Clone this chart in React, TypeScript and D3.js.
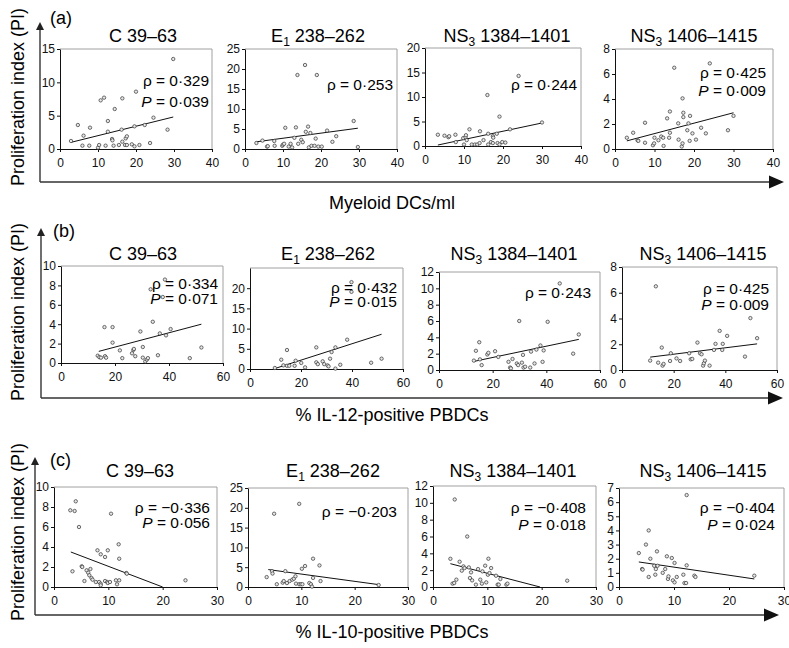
import React, { useEffect, useRef } from "react";
import * as d3 from "d3";

const FONT = "'Liberation Sans', Arial, Helvetica, sans-serif";

// ---- panel titles (peptides) ----
const titlePre = ["C 39–63", "E", "NS", "NS"];
const titleSub = ["", "1", "3", "3"];
const titlePost = ["", " 238–262", " 1384–1401", " 1406–1415"];

// ---- (a) myeloid DCs/ml vs PI ----
const dcC = [[2.9,1.2],[4.7,3.6],[6.2,2.0],[5.9,0.5],[7.7,0.5],[7.9,3.2],[10,0.2],[10.3,0.6],[10.7,7.3],[11.6,7.7],[12,0.5],[12.6,4.2],[12.6,2.6],[13.7,1.5],[13.8,1.3],[14.4,6.0],[14.1,0.5],[15.5,0.6],[16.2,2.9],[16.4,1.1],[16.4,7.6],[17.3,1.6],[17.6,1.9],[17.1,0.6],[17.6,0.6],[18.9,0.7],[19.6,0.4],[20,8.6],[19.6,3.4],[20.9,0.6],[22.3,3.6],[23.7,0.9],[24.6,4.7],[28.3,2.9],[29.8,13.5]];
const dcE1 = [[3,1.5],[4.6,2.1],[5.8,0.6],[6,0.7],[7.7,2.0],[7.8,0.8],[9.8,0.8],[10,1.1],[10.3,1.3],[10.6,5.3],[11.5,0.6],[12,1.3],[12.4,0.4],[13,2.8],[13.4,5.4],[13.8,18.5],[14,1.3],[14.8,2.3],[15.2,1.7],[15.8,21],[16,4.3],[16.6,5.6],[16.8,0.4],[17.2,4.0],[17.5,0.8],[18.3,0.8],[18.6,2.6],[18.9,18.5],[19.3,0.6],[20.2,0.6],[21.6,4.6],[23,1.8],[24,3.2],[28.6,7.0],[29.7,0.5]];
const dcNS3a = [[3.3,2.3],[5,2.1],[6,1.8],[6.2,2.0],[7.8,2.3],[7.9,0.8],[9.8,1.6],[10,0.3],[10.4,1.8],[10.5,2.2],[10.7,1.2],[11.4,3.4],[12,0.3],[12.8,0.3],[13.4,0.3],[14,0.6],[14.1,3.0],[15,1.2],[16,10.4],[16.2,2.5],[16.2,0.3],[16.9,0.8],[17.4,2.0],[17.5,1.7],[17.4,0.6],[18.4,2.5],[18.6,0.6],[19.1,6.0],[19.1,0.3],[19.8,0.8],[20.6,0.7],[21.8,3.4],[24,14.3],[30,4.8]];
const dcNS3b = [[3,0.9],[4.6,1.3],[5.7,0.7],[5.9,0.65],[7.6,2.1],[7.6,0.5],[9.6,0.3],[9.9,0.45],[10,0.9],[11,0.7],[11.7,1.0],[12.2,0.9],[12.3,0.25],[13.2,2.45],[13.7,0.9],[13.9,3.0],[13.9,1.3],[15,6.5],[16,2.05],[16.1,0.75],[16.9,0.2],[17.1,0.45],[17.1,4.05],[17.3,2.9],[17.3,2.55],[18.3,1.5],[18.6,2.05],[18.9,0.65],[19,2.65],[19.6,1.25],[20.5,0.75],[21.8,1.7],[23,1.25],[24,6.85],[28.6,1.5],[30,2.65]];
const fitDC = [[2.9,1.0,29.8,4.8],[3,1.8,29.7,5.2],[3.3,0.2,30,4.7],[3,0.65,30,2.9]];
const rhoDC = ["0·329", "0·253", "0·244", "0·425"];
const pDC = ["0·039", "", "", "0·009"];
const yMaxDC = [15, 25, 20, 8];
const yTopDC = [15, 25, 20, 8];
const yStepDC = [5, 5, 5, 2];

// ---- (b) % IL-12-positive PBDCs vs PI ----
const il12C = [[13.6,0.75],[14.2,0.6],[14.8,0.55],[16.3,0.7],[16.7,0.55],[16.1,3.7],[19.1,3.7],[19.1,2.1],[21.8,1.3],[22.7,0.5],[26.3,1.0],[26.8,1.35],[27,1.45],[27.5,0.7],[29.4,3.25],[30.3,0.55],[30.3,1.65],[31.2,0.15],[31.8,0.35],[32.2,0.5],[33.2,7.6],[37.7,6.8],[34,4.25],[35.9,0.8],[36.6,3.05],[38.9,2.85],[38.5,8.6],[40.6,3.5],[47.7,0.5],[52,1.6]];
const il12E1 = [[9.75,0.25],[12.25,2.3],[13.1,0.9],[14.5,4.7],[14.5,0.8],[15.4,0.8],[17.5,0.8],[17.9,2.05],[20.1,1.5],[21.6,0.4],[26,5.35],[26,1.65],[26.6,1.2],[28.5,1.9],[29.1,1.2],[30.4,0.9],[30.8,0.65],[31.4,2.55],[32,4.2],[33.5,5.35],[33.5,0.1],[35.4,1.05],[38.1,7.25],[39.8,21.5],[39.8,19.1],[47.5,1.55],[51.6,2.55]];
const il12NS3a = [[13,1.15],[13.75,2.35],[15,3.4],[15.25,1.3],[15.9,0.6],[18,1.9],[18.4,2.1],[20.9,2.3],[22.1,1.6],[25.9,1.0],[26.5,0.3],[26.8,0.2],[27.4,1.35],[29,0.8],[29.5,0.6],[29.9,6.0],[30.9,0.9],[31.3,1.85],[31.5,0.3],[32.1,0.4],[34,0.3],[34.3,2.25],[35.6,0.8],[36.3,2.5],[37.8,3.0],[38.6,1.0],[39,2.4],[40.5,5.9],[45,10.6],[50,2.0],[52.1,4.35]];
const il12NS3b = [[10.9,0.73],[13.1,6.5],[14,0.57],[15.4,1.74],[15.7,0.34],[16.1,0.47],[18.6,0.7],[18.9,1.3],[21.1,0.9],[22.5,0.7],[26,1.3],[26.6,0.83],[27.2,0.86],[29.2,2.13],[30.2,1.3],[30.8,1.22],[31.4,0.34],[31.7,0.52],[32.1,0.73],[33.9,0.34],[35.6,1.56],[36.2,2.03],[37.8,3.04],[38.8,1.56],[39,2.03],[40.7,2.65],[47.6,1.04],[49.7,4.03],[52.3,2.47]];
const fitIL12 = [[14,1.2,52,4.0],[10.4,0.25,51.6,8.6],[13,1.05,52.1,3.75],[10.9,1.0,52.3,2.03]];
const rhoIL12 = ["0·334", "0·432", "0·243", "0·425"];
const pIL12 = ["0·071", "0·015", "", "0·009"];
const yMaxIL12 = [10, 25, 12, 8];
const yTopIL12 = [10, 20, 12, 8];
const yStepIL12 = [2, 5, 2, 2];

// ---- (c) % IL-10-positive PBDCs vs PI ----
const il10C = [[3,7.67],[3.8,7.6],[4,8.57],[3.4,1.57],[4.6,6],[5.1,2.07],[5.2,2],[5.6,0.6],[6,1.67],[6.3,1.43],[6.5,1.17],[6.7,1.8],[6.9,0.9],[7.1,0.73],[7.7,0.5],[8,3.67],[8.3,0.5],[8.6,3.27],[8.6,0.33],[8.6,0.17],[9.4,3],[9.4,0.6],[9.8,0.5],[9.9,3.67],[9.9,0.4],[10.5,7.33],[10.3,0.5],[11.4,0.67],[11.6,0.27],[11.9,4.27],[12,2.83],[12,0.67],[13.3,1.4],[13.4,1.33],[24.2,0.67]];
const il10E1 = [[3.5,2.5],[4.5,4.0],[4.6,3.4],[4.9,18.5],[5.4,0.7],[6.5,1.1],[6.7,1.5],[7,4.0],[7.3,1.0],[7.8,1.5],[8.3,1.85],[8.6,2.1],[8.9,2.7],[9,0.85],[9.6,21],[9.6,0.7],[9.9,0.7],[10.2,0.7],[10.1,4.6],[10.7,5.3],[11.5,1.0],[11.8,0.7],[12,0.1],[12.2,7.15],[12.2,2.3],[13.4,5.45],[13.6,1.5],[24.5,0.5]];
const il10NS3a = [[3.2,3.35],[3.6,0.4],[3.9,0.47],[4,10.4],[4.3,0.87],[4.9,3.0],[5.3,1.94],[5.6,2.45],[5.8,2.25],[6.3,6.0],[6.6,2.33],[6.8,1.07],[7,1.74],[7.2,0.79],[7.9,0.28],[8.3,2.13],[8.7,0.87],[9,0.4],[9.1,1.86],[9.6,2.53],[9.8,0.55],[10.1,1.46],[10.2,3.36],[10.4,1.66],[10.7,2.25],[11.6,1.34],[11.9,0.28],[12.1,0.28],[12.4,0.95],[13.5,0.28],[13.7,0.4],[24.7,0.75]];
const il10NS3b = [[3.6,2.4],[4.2,1.27],[4.3,1.23],[4.9,3.0],[5.4,0.71],[5.4,4.0],[5.7,2.0],[6.4,1.5],[6.6,0.87],[6.7,1.27],[6.9,2.52],[7,1.5],[7.95,1.0],[8.4,1.27],[8.7,2.17],[8.9,0.57],[9,0.75],[9.6,2.05],[9.8,0.47],[10.1,1.7],[10.1,0.33],[10.5,0.71],[11.7,0.87],[11.9,0.28],[12.2,0.28],[12.3,1.53],[12.3,6.5],[13.7,0.8],[13.9,0.71],[24.6,0.8]];
const fitIL10 = [[3.1,3.5,20,0],[3.8,4.4,24.5,0.6],[3.2,2.77,19.7,0],[3.6,1.77,24.6,0.57]];
const rhoIL10 = ["−0·336", "−0·203", "−0·408", "−0·404"];
const pIL10 = ["0·056", "", "0·018", "0·024"];
const yMaxIL10 = [10, 25, 12, 7];
const yTopIL10 = [10, 25, 12, 7];
const yStepIL10 = [2, 5, 2, 1];

const rows = [
  {
    tag: "(a)", xlabel: "Myeloid DCs/ml", xMax: 40, xStep: 10,
    data: [dcC, dcE1, dcNS3a, dcNS3b], fits: fitDC, rho: rhoDC, p: pDC,
    yMax: yMaxDC, yTop: yTopDC, yStep: yStepDC,
    lay: {
      vx: 40, vTop: 22, hy: 182, hLeft: 40, hTip: 784, tag: [50, 24], ylabY: 97, xlabY: 209, titleY: 42,
      boxes: [[60, 49, 212, 149], [245, 49, 397, 149], [425, 48, 581, 146], [615, 49, 773, 149]],
      titleX: [143, 318, 507, 694],
      ann: [[209, 86, 107], [393, 90, 0], [577, 90, 0], [766, 78, 96]],
    },
  },
  {
    tag: "(b)", xlabel: "% IL-12-positive PBDCs", xMax: 60, xStep: 20,
    data: [il12C, il12E1, il12NS3a, il12NS3b], fits: fitIL12, rho: rhoIL12, p: pIL12,
    yMax: yMaxIL12, yTop: yTopIL12, yStep: yStepIL12,
    lay: {
      vx: 41, vTop: 228, hy: 398, hLeft: 41, hTip: 783, tag: [53, 237], ylabY: 312, xlabY: 421, titleY: 260,
      boxes: [[61, 266, 223, 363], [250, 268, 403, 369], [439, 272, 600, 370], [622, 267, 777, 370]],
      titleX: [143, 328, 514, 703],
      ann: [[218, 289, 304], [397, 293, 307], [591, 298, 0], [769, 294, 310]],
    },
  },
  {
    tag: "(c)", xlabel: "% IL-10-positive PBDCs", xMax: 30, xStep: 10,
    data: [il10C, il10E1, il10NS3a, il10NS3b], fits: fitIL10, rho: rhoIL10, p: pIL10,
    yMax: yMaxIL10, yTop: yTopIL10, yStep: yStepIL10,
    lay: {
      vx: 35, vTop: 457, hy: 615, hLeft: 35, hTip: 779, tag: [50, 466], ylabY: 532, xlabY: 638, titleY: 477,
      boxes: [[54, 487, 217, 587], [248, 488, 408, 587], [433, 486, 596, 587], [619, 488, 784, 587]],
      titleX: [140, 333, 513, 703],
      ann: [[210, 513, 528], [397, 517, 0], [586, 513, 530], [775, 513, 530]],
    },
  },
];

export default function App() {
  const svgRef = useRef<SVGSVGElement>(null);

  useEffect(() => {
    const svg = d3.select(svgRef.current);
    svg.selectAll("*").remove();

    rows.forEach((row) => {
      const L = row.lay;
      const g = svg.append("g");

      // big row axes with arrows
      g.append("line")
        .attr("x1", L.vx).attr("x2", L.vx).attr("y1", L.hy).attr("y2", L.vTop + 6)
        .attr("stroke", "#333").attr("stroke-width", 1.4);
      g.append("path")
        .attr("d", `M${L.vx},${L.vTop}L${L.vx - 4},${L.vTop + 8}L${L.vx + 4},${L.vTop + 8}Z`)
        .attr("fill", "#222");
      g.append("line")
        .attr("x1", L.hLeft).attr("x2", L.hTip - 12).attr("y1", L.hy).attr("y2", L.hy)
        .attr("stroke", "#333").attr("stroke-width", 1.6);
      g.append("path")
        .attr("d", `M${L.hTip},${L.hy}L${L.hTip - 15},${L.hy - 6.5}L${L.hTip - 15},${L.hy + 6.5}Z`)
        .attr("fill", "#111");

      g.append("text")
        .attr("x", L.tag[0]).attr("y", L.tag[1])
        .attr("font-family", FONT).attr("font-size", 18)
        .text(row.tag);

      g.append("text")
        .attr("transform", `translate(24,${L.ylabY}) rotate(-90)`)
        .attr("text-anchor", "middle")
        .attr("font-family", FONT).attr("font-size", 18)
        .text("Proliferation index (PI)");

      g.append("text")
        .attr("x", 392).attr("y", L.xlabY)
        .attr("text-anchor", "middle")
        .attr("font-family", FONT).attr("font-size", 18)
        .text(row.xlabel);

      row.data.forEach((pts, i) => {
        const [x0, y0, x1, y1] = L.boxes[i];
        const x = d3.scaleLinear().domain([0, row.xMax]).range([x0, x1]);
        const y = d3.scaleLinear().domain([0, row.yMax[i]]).range([y1, y0]);
        const pg = g.append("g");

        // light frame top/right
        pg.append("path")
          .attr("d", `M${x0},${y0}H${x1}V${y1}`)
          .attr("fill", "none").attr("stroke", "#a0a0a0").attr("stroke-width", 1);

        const yAxis = pg.append("g")
          .attr("transform", `translate(${x0},0)`)
          .call(
            d3.axisLeft(y)
              .tickValues(d3.range(0, row.yTop[i] + 1e-6, row.yStep[i]))
              .tickSize(3).tickSizeOuter(0).tickPadding(2)
              .tickFormat(d3.format("d"))
          );
        const xAxis = pg.append("g")
          .attr("transform", `translate(0,${y1})`)
          .call(
            d3.axisBottom(x)
              .tickValues(d3.range(0, row.xMax + 1e-6, row.xStep))
              .tickSize(3).tickSizeOuter(0).tickPadding(6)
              .tickFormat(d3.format("d"))
          );
        [yAxis, xAxis].forEach((a) => {
          a.attr("font-family", FONT).attr("font-size", 12);
          a.selectAll("path,line").attr("stroke", "#111");
          a.selectAll("text").attr("fill", "#111");
        });

        // regression line
        const f = row.fits[i];
        pg.append("line")
          .attr("x1", x(f[0])).attr("y1", y(f[1]))
          .attr("x2", x(f[2])).attr("y2", y(f[3]))
          .attr("stroke", "#111").attr("stroke-width", 1);

        // points
        pg.selectAll("circle")
          .data(pts)
          .enter()
          .append("circle")
          .attr("cx", (d) => x(d[0]))
          .attr("cy", (d) => y(d[1]))
          .attr("r", 1.7)
          .attr("fill", "#e6e6e6")
          .attr("stroke", "#333")
          .attr("stroke-width", 0.7);

        // title
        const t = pg.append("text")
          .attr("x", L.titleX[i]).attr("y", L.titleY)
          .attr("text-anchor", "middle")
          .attr("font-family", FONT).attr("font-size", 18);
        t.append("tspan").text(titlePre[i]);
        if (titleSub[i]) {
          t.append("tspan").attr("font-size", 12).attr("dy", 4).text(titleSub[i]);
          t.append("tspan").attr("dy", -4).text(titlePost[i]);
        }

        // stats
        const [ax, ry, py] = L.ann[i];
        pg.append("text")
          .attr("x", ax).attr("y", ry)
          .attr("text-anchor", "end")
          .attr("font-family", FONT).attr("font-size", 15.5)
          .text(`ρ = ${row.rho[i]}`);
        if (row.p[i]) {
          const pt = pg.append("text")
            .attr("x", ax).attr("y", py)
            .attr("text-anchor", "end")
            .attr("font-family", FONT).attr("font-size", 15.5);
          pt.append("tspan").attr("font-style", "italic").text("P");
          pt.append("tspan").text(` = ${row.p[i]}`);
        }
      });
    });
  }, []);

  return (
    <div style={{ position: "absolute", left: 0, top: 0 }}>
      <svg ref={svgRef} width={789} height={648} style={{ display: "block", background: "#fff" }} />
    </div>
  );
}
